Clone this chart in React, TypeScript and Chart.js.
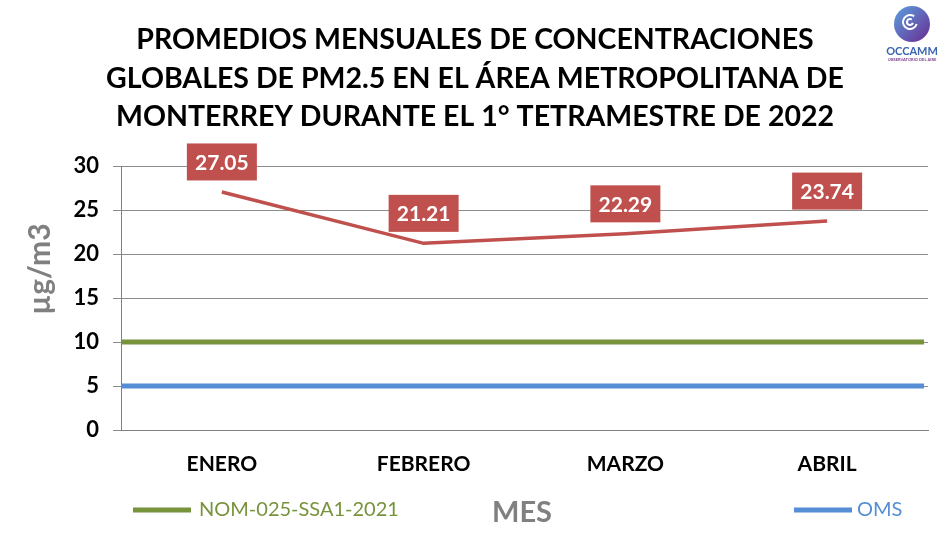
import { useEffect, useRef } from "react";
import { Chart, registerables } from "chart.js";

Chart.register(...registerables);

const months = ["ENERO", "FEBRERO", "MARZO", "ABRIL"];
const pm25 = [27.05, 21.21, 22.29, 23.74];
const nomLimit = 10;
const omsLimit = 5;
const yMin = 0;
const yMax = 30;
const yStep = 5;
const titleLines = [
  "PROMEDIOS MENSUALES DE CONCENTRACIONES",
  "GLOBALES DE PM2.5 EN EL ÁREA METROPOLITANA DE",
  "MONTERREY DURANTE EL 1° TETRAMESTRE DE 2022",
];
const yTitle = "µg/m3";
const xTitle = "MES";
const nomLabel = "NOM-025-SSA1-2021";
const omsLabel = "OMS";
const seriesLabel = "PM2.5";

const RED = "#C0504D";
const GREEN = "#77933C";
const BLUE = "#558ED5";
const GRAY = "#808080";
const FONT = "Lato, 'Open Sans', sans-serif";

const decorPlugin = {
  id: "decor",
  afterDraw(chart: any) {
    const ctx = chart.ctx as CanvasRenderingContext2D;
    ctx.save();
    // Title
    ctx.fillStyle = "#000";
    ctx.font = `bold 28.5px ${FONT}`;
    ctx.textAlign = "center";
    ctx.textBaseline = "alphabetic";
    const baselines = [49, 88, 126];
    titleLines.forEach((t, i) => ctx.fillText(t, 475, baselines[i]));

    // Y title
    ctx.save();
    ctx.translate(50, 269);
    ctx.rotate(-Math.PI / 2);
    ctx.fillStyle = GRAY;
    ctx.font = `bold 30px ${FONT}`;
    ctx.textAlign = "center";
    ctx.textBaseline = "alphabetic";
    ctx.fillText(yTitle, 0, 0);
    ctx.restore();

    // X title
    ctx.fillStyle = GRAY;
    ctx.font = `bold 29px ${FONT}`;
    ctx.textAlign = "center";
    ctx.textBaseline = "middle";
    ctx.fillText(xTitle, 522, 513);

    // Legend
    const ds = chart.data.datasets;
    const drawItem = (lx: number, gap: number, label: string, color: string) => {
      ctx.strokeStyle = color;
      ctx.lineWidth = 5;
      ctx.beginPath();
      ctx.moveTo(lx, 510);
      ctx.lineTo(lx + 58, 510);
      ctx.stroke();
      ctx.fillStyle = color;
      ctx.font = `20px ${FONT}`;
      ctx.textAlign = "left";
      ctx.textBaseline = "middle";
      ctx.fillText(label, lx + 58 + gap, 510);
    };
    drawItem(133, 8, ds[1].label, ds[1].borderColor);
    drawItem(794, 5, ds[2].label, ds[2].borderColor);

    // Logo
    const cx = 912, cy = 24, r = 18;
    const g = ctx.createLinearGradient(cx - r, cy - r, cx + r, cy + r);
    g.addColorStop(0, "#5AA0E0");
    g.addColorStop(1, "#6A2C91");
    ctx.fillStyle = g;
    ctx.beginPath();
    ctx.arc(cx, cy, r, 0, Math.PI * 2);
    ctx.fill();
    ctx.strokeStyle = "#fff";
    ctx.lineWidth = 2;
    ctx.beginPath();
    ctx.arc(cx - 2, cy - 2, 7, 0.3, Math.PI * 1.7);
    ctx.stroke();
    ctx.beginPath();
    ctx.arc(cx - 2, cy - 2, 3, 0.3, Math.PI * 1.7);
    ctx.stroke();
    ctx.fillStyle = "#3A63B0";
    ctx.font = `bold 11px ${FONT}`;
    ctx.textAlign = "center";
    ctx.textBaseline = "alphabetic";
    ctx.fillText("OCCAMM", cx, 55);
    ctx.font = `bold 4px ${FONT}`;
    ctx.fillStyle = "#7a3c8f";
    ctx.fillText("OBSERVATORIO DEL AIRE", cx, 61);
    ctx.restore();
  },
};

const labelPlugin = {
  id: "valueLabels",
  afterDatasetsDraw(chart: any) {
    const ctx = chart.ctx as CanvasRenderingContext2D;
    const meta = chart.getDatasetMeta(0);
    const data = chart.data.datasets[0].data as number[];
    ctx.save();
    meta.data.forEach((pt: any, i: number) => {
      const x = pt.x;
      const y = pt.y - 30;
      ctx.fillStyle = RED;
      ctx.fillRect(x - 35, y - 18.5, 70, 37);
      ctx.fillStyle = "#fff";
      ctx.font = `bold 21px ${FONT}`;
      ctx.textAlign = "center";
      ctx.textBaseline = "middle";
      ctx.fillText(data[i].toFixed(2), x, y + 1);
    });
    ctx.restore();
  },
};

export default function App() {
  const ref = useRef<HTMLCanvasElement | null>(null);
  useEffect(() => {
    if (!ref.current) return;
    const chart = new Chart(ref.current, {
      type: "line",
      data: {
        labels: months,
        datasets: [
          {
            label: seriesLabel,
            data: pm25,
            borderColor: RED,
            borderWidth: 3.5,
            pointRadius: 0,
            tension: 0,
            xAxisID: "x",
          },
          {
            label: nomLabel,
            data: [
              { x: 0, y: nomLimit },
              { x: 1, y: nomLimit },
            ],
            borderColor: GREEN,
            borderWidth: 5,
            pointRadius: 0,
            xAxisID: "x2",
          } as any,
          {
            label: omsLabel,
            data: [
              { x: 0, y: omsLimit },
              { x: 1, y: omsLimit },
            ],
            borderColor: BLUE,
            borderWidth: 5,
            pointRadius: 0,
            xAxisID: "x2",
          } as any,
        ],
      },
      plugins: [decorPlugin, labelPlugin],
      options: {
        responsive: false,
        animation: false,
        layout: { padding: { top: 166, right: 22, left: 0, bottom: 0 } },
        plugins: {
          legend: { display: false },
          title: { display: false },
          tooltip: { enabled: false },
        },
        scales: {
          x: {
            type: "category",
            offset: true,
            grid: { display: false, drawTicks: false },
            border: { display: true, color: GRAY, width: 1 },
            ticks: {
              color: "#000",
              font: { family: FONT, size: 21, weight: "bold" },
              padding: 22,
            },
            afterFit(scale: any) {
              scale.height = 120;
            },
          },
          x2: {
            type: "linear",
            display: false,
            min: 0,
            max: 1.005,
          },
          y: {
            min: yMin,
            max: yMax,
            ticks: {
              stepSize: yStep,
              color: "#000",
              font: { family: FONT, size: 22, weight: "bold" },
              padding: 14,
            },
            grid: { color: "#8C8C8C", lineWidth: 1, tickLength: 8 },
            border: { display: true, color: GRAY, width: 1 },
            afterFit(scale: any) {
              scale.width = 121;
            },
          },
        },
      } as any,
    });
    return () => chart.destroy();
  }, []);
  return (
    <div style={{ position: "absolute", left: 0, top: 0, width: 950, height: 550, background: "#fff" }}>
      <canvas ref={ref} width={950} height={550} style={{ display: "block" }} />
    </div>
  );
}
